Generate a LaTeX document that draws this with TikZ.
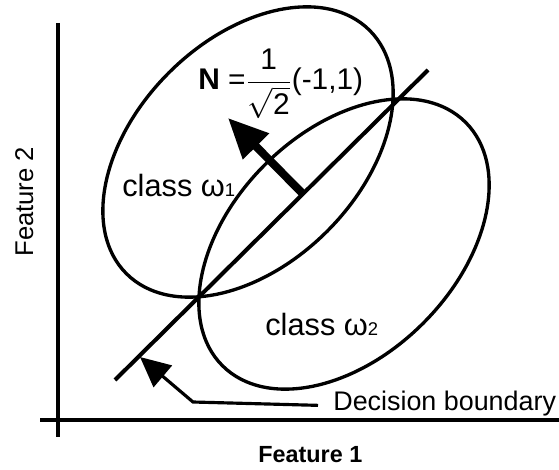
\documentclass[tikz,border=0pt]{standalone}
\usepackage{amsmath}
\usepackage{fontspec}
\setmainfont{Liberation Sans}
\usetikzlibrary{arrows.meta,calc}

\begin{document}
\begin{tikzpicture}[
    axis/.style={line width=2pt},
    curve/.style={line width=1.9pt},
    boundary/.style={line width=2.3pt},
    normal/.style={-{Triangle[length=8mm,width=7mm]}, line width=4.6pt},
    pointer/.style={-{Triangle[length=6mm,width=5.6mm]}, line width=1.8pt},
    lbl/.style={anchor=base west, inner sep=0pt}
]
\useasboundingbox (0,0) rectangle (11.18,9.38);

% axes
\draw[axis] (1.16,8.92) -- (1.16,0.64);
\draw[axis] (0.80,0.98) -- (11.18,0.98);
\node[lbl, rotate=90] (f2) at (0.66,4.24) {\fontsize{14.6}{17}\selectfont Feature 2};
\node[lbl] (f1) at (5.16,0.14) {\fontsize{13.3}{16}\selectfont\bfseries Feature 1};

% the two classes
\draw[curve] (4.96,6.34) ellipse [x radius=3.44, y radius=2.24, rotate=45];
\draw[curve] (6.88,4.50) ellipse [x radius=3.44, y radius=2.24, rotate=45];
\node[lbl] (c1) at (2.44,5.44) {\fontsize{17.5}{20}\selectfont class ω{\fontsize{10.5}{12}\selectfont 1}};
\node[lbl] (c2) at (5.30,2.68) {\fontsize{17.5}{20}\selectfont class ω{\fontsize{10.5}{12}\selectfont 2}};

% decision boundary and its normal
\draw[boundary] (2.30,1.78) coordinate (lo) -- (8.56,7.98) coordinate (hi);
\coordinate (base) at (6.06,5.50);
\coordinate (tip) at (4.56,7.02);
\draw[normal] (base) -- (tip);
\node[lbl] (nvec) at (3.96,7.58) {\fontsize{17}{20}\selectfont\textbf{N} =$\dfrac{\text{1}}{\sqrt{\text{2}}}$(-1,1)};

\node[lbl] (dec) at (6.66,1.18) {\fontsize{15.3}{18}\selectfont Decision boundary};
\coordinate (elbow) at (3.86,1.34);
\coordinate (foot) at (2.80,2.24);
\draw[pointer] ([xshift=-3mm]dec.mid west) -- (elbow) -- (foot);
\end{tikzpicture}
\end{document}
